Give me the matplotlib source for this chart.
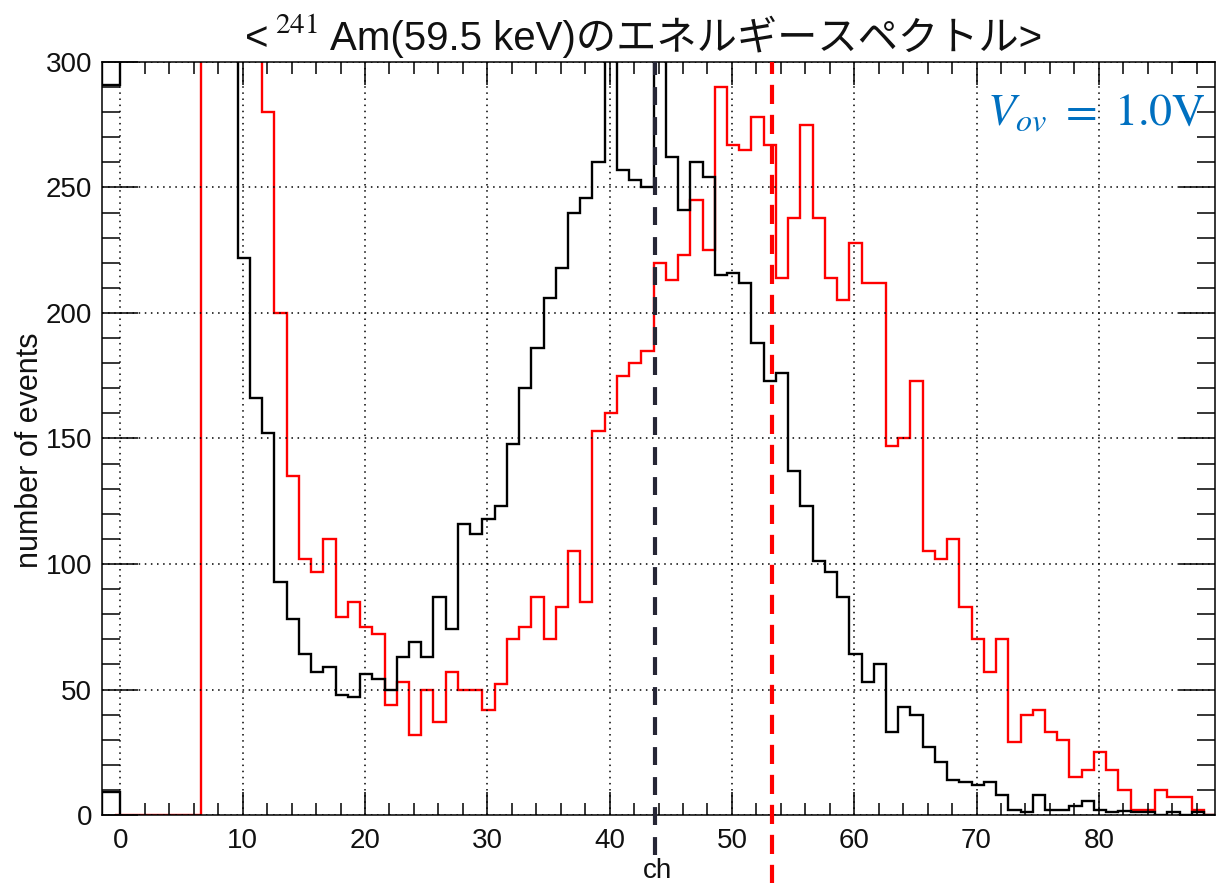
import numpy as np
import matplotlib.pyplot as plt
from matplotlib.ticker import MultipleLocator

plt.rcParams['mathtext.fontset'] = 'stix'

# bin edges (ch) and counts; 350 = off the top of the scale
red_edges = np.arange(-0.4, 89.7, 1.0)
red_counts = [0, 0, 0, 0, 0, 0, 0,
              350, 350, 350, 350, 350,
              280, 200, 135, 102, 97, 110, 79, 85, 75, 72,
              44, 53, 32, 50, 37, 57, 50, 50, 42, 52,
              70, 75, 87, 70, 83, 105, 85, 153, 160, 175,
              180, 185, 220, 213, 223, 245, 225, 290, 267, 265,
              278, 267, 214, 238, 275, 238, 214, 205, 228, 212,
              212, 147, 150, 173, 105, 102, 110, 83, 70, 57,
              70, 29, 40, 42, 33, 30, 15, 18, 25, 18,
              10, 2, 2, 10, 7, 7, 2, 0]

black_edges = np.arange(8.6, 89.7, 1.0)
black_counts = [350, 222, 166, 152, 93, 78, 64, 57, 59, 48,
                47, 56, 54, 50, 63, 69, 63, 87, 74, 116,
                112, 118, 123, 148, 170, 186, 206, 218, 240, 246,
                260, 350, 257, 253, 250, 350, 262, 241, 260, 254,
                215, 216, 212, 188, 173, 176, 137, 123, 101, 97,
                87, 64, 53, 60, 33, 43, 40, 27, 21, 14,
                13, 12, 13, 8, 2, 1, 8, 2, 2, 3.5,
                5.5, 2, 1, 1.5, 1, 1, 0, 1, 0, 1, 0]

# small leftover box of the black histogram left of ch 0
stub_edges = [-1.5, 0.0]
stub_low = [9]
stub_high = [291]

# peak positions marked with dashed lines
black_peak = 43.7
red_peak = 53.3

fig = plt.figure(figsize=(12.17, 8.83), dpi=100)
ax = fig.add_axes([102 / 1217, 1 - 815 / 883, 1113 / 1217, 753 / 883])

ax.grid(True, which='major', color='black', linestyle=(0, (1, 3)), lw=1.1)
ax.stairs(red_counts, red_edges, color='#ff0000', lw=1.7, baseline=None)
ax.stairs(black_counts, black_edges, color='black', lw=1.7, baseline=None)
ax.stairs(stub_low, stub_edges, color='black', lw=1.7, baseline=0)
ax.stairs(stub_high, stub_edges, color='black', lw=1.7, baseline=350)

ax.axvline(black_peak, ymin=-0.053, ymax=1, color='#262635', lw=3,
           dashes=(4.3, 2.9), clip_on=False, zorder=5)
ax.axvline(red_peak, ymin=-0.1, ymax=1, color='#ff0000', lw=3,
           dashes=(4.6, 2.6), clip_on=False, zorder=5)

ax.set_xlim(-1.5, 89.5)
ax.set_ylim(0, 300)
ax.xaxis.set_major_locator(MultipleLocator(10))
ax.xaxis.set_minor_locator(MultipleLocator(2))
ax.yaxis.set_major_locator(MultipleLocator(50))
ax.yaxis.set_minor_locator(MultipleLocator(10))

ax.tick_params(axis='both', which='both', direction='in', top=True, right=True,
               width=1.1, labelsize=20, labelcolor='#111111')
ax.tick_params(axis='x', which='major', length=16.5, pad=9)
ax.tick_params(axis='x', which='minor', length=8.6)
ax.tick_params(axis='y', which='major', length=26, pad=7)
ax.tick_params(axis='y', which='minor', length=13)
for lab in ax.get_xticklabels() + ax.get_yticklabels():
    lab.set_family('Liberation Sans')
for sp in ax.spines.values():
    sp.set_linewidth(1.1)

fig.text(30 / 1217, 1 - 450 / 883, 'number of events', rotation=90,
         ha='center', va='center', fontsize=22, family='Liberation Sans',
         color='#111111')
fig.text(658 / 1217, 1 - 871 / 883, 'ch', ha='center', va='center',
         fontsize=20, family='Liberation Sans', color='#111111')

# title
fig.text(245 / 1217, 1 - 50 / 883, '<', fontsize=29, family='Liberation Sans',
         va='baseline', color='#111111')
fig.text(275 / 1217, 1 - 33 / 883, '$241$', fontsize=21, va='baseline',
         color='#111111')
fig.text(330 / 1217, 1 - 50 / 883, 'Am(59.5 keV)のエネルギースペクトル>',
         fontsize=29, family=['Liberation Sans', 'Noto Sans CJK JP'],
         va='baseline', color='#111111')

fig.text(987 / 1217, 1 - 125 / 883, r'$V_{ov}\ =\ 1.0\mathrm{V}$', fontsize=33,
         color='#0070c0', va='baseline')

fig.savefig('out.png', dpi=100)
